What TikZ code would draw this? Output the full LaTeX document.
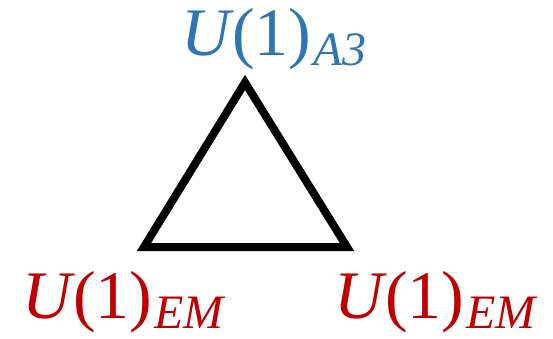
\documentclass[tikz,border=0pt]{standalone}
\usepackage{fontspec}
\setmainfont{Liberation Serif}
\definecolor{labblue}{HTML}{2E75B6}
\definecolor{labred}{HTML}{C00000}
\tikzset{
  lab/.style={anchor=base west, inner sep=0pt, outer sep=0pt},
  tri/.style={draw=black, line width=8pt, miter limit=10, line join=miter}
}
\newcommand{\ulab}[1]{{\fontsize{68}{68}\selectfont\itshape U\kern2pt\upshape(1)}\kern2pt\raisebox{-10pt}{\fontsize{48}{48}\selectfont\itshape #1}}
\begin{document}
\begin{tikzpicture}[x=1pt,y=-1pt]
\useasboundingbox (0,0) rectangle (553,339);
\coordinate (apex) at (245,82.5);
\coordinate (bl) at (144,247);
\coordinate (br) at (347,247);
\draw[tri] (apex) -- (bl) -- (br) -- cycle;
\node[lab, text=labblue] (top) at (181,56) {\ulab{A3}};
\node[lab, text=labred] (left) at (22,318) {\ulab{EM}};
\node[lab, text=labred] (right) at (334,318) {\ulab{EM}};
\end{tikzpicture}
\end{document}
